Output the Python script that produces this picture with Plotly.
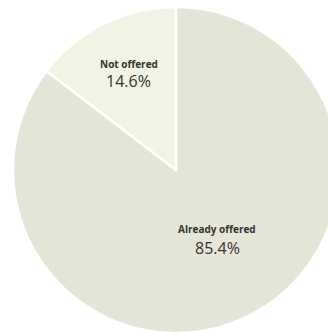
import plotly.graph_objects as go

labels = ["Already offered", "Not offered"]
values = [85.4, 14.6]
colors = ["#e5e6d8", "#f1f3e4"]

W, H = 352, 340
fig = go.Figure(go.Pie(
    labels=labels, values=values, sort=False, direction="clockwise", rotation=0,
    marker=dict(colors=colors, line=dict(color="#ffffff", width=2.5)),
    textinfo="none", hoverinfo="label+percent", showlegend=False,
    domain=dict(x=[0.5 - 163 / W + (176 - W / 2) / W, 0.5 + 163 / W + (176 - W / 2) / W],
                y=[0.5 - 163 / H, 0.5 + 163 / H]),
))

# label anchor positions in pixels (layout only)
label_pos = {"Already offered": (217, 229, 247.5), "Not offered": (128.5, 64, 80.5)}
for lab, val in zip(labels, values):
    x, y1, y2 = label_pos[lab]
    fig.add_annotation(x=x / W, y=1 - y1 / H, xref="paper", yref="paper", showarrow=False,
                       xanchor="center", yanchor="middle",
                       text=f"<b>{lab}</b>", font=dict(size=10, color="#333333", family="Open Sans"))
    fig.add_annotation(x=x / W, y=1 - y2 / H, xref="paper", yref="paper", showarrow=False,
                       xanchor="center", yanchor="middle",
                       text=f"{val:.1f}%", font=dict(size=16, color="#333333", family="Open Sans"))

fig.update_layout(width=W, height=H, autosize=False, margin=dict(l=0, r=0, t=0, b=0),
                  paper_bgcolor="#ffffff", plot_bgcolor="#ffffff")
fig.write_html("out.html", config={"displayModeBar": False},
               post_script="document.documentElement.style.overflow='hidden';document.body.style.overflow='hidden';document.body.style.margin='0';")
